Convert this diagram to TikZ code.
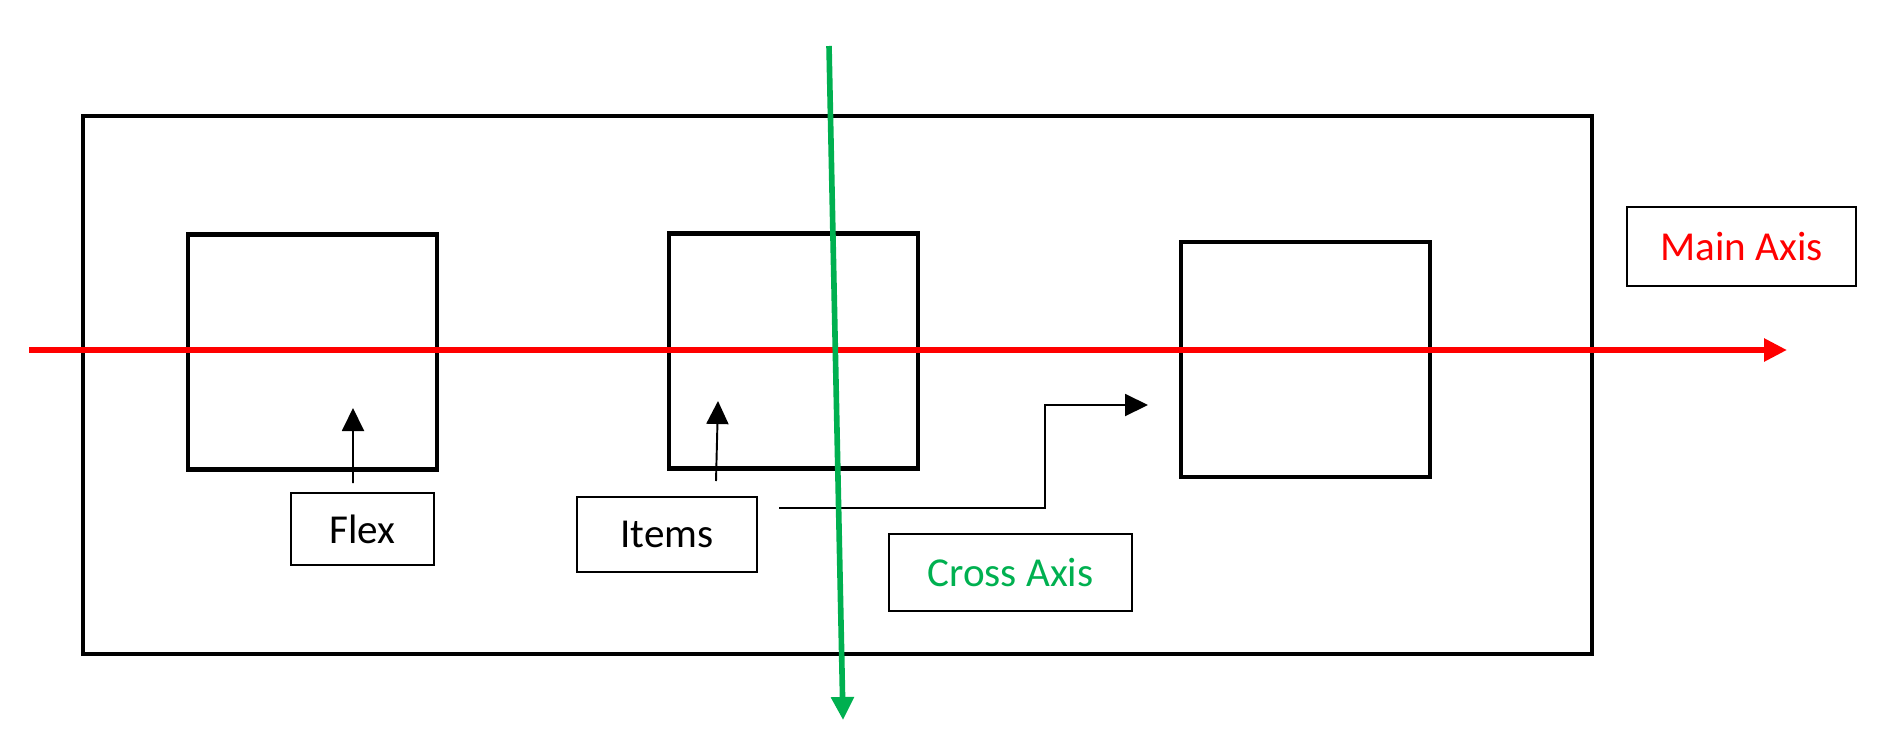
\documentclass[tikz,border=0pt]{standalone}
\usepackage{fontspec}
\setmainfont{Carlito}
\usetikzlibrary{arrows.meta}
\definecolor{axisred}{RGB}{255,0,0}
\definecolor{axisgreen}{RGB}{0,176,80}
\newcommand{\lowtext}[1]{\raisebox{-0.35mm}{#1}}
\begin{document}
\begin{tikzpicture}[x=0.1mm,y=-0.1mm,inner sep=0pt,outer sep=0pt,
>={Triangle[length=2.3mm,width=2.2mm]},
container/.style={draw,rectangle,line width=1.15pt,minimum width=150.9mm,minimum height=53.8mm},
flexitem/.style={draw,rectangle,line width=1.15pt,minimum width=24.9mm,minimum height=23.5mm},
tag/.style={draw,rectangle,line width=0.6pt,font=\fontsize{11.7}{14}\selectfont}]
\useasboundingbox (0,0) rectangle (1890,744);
\draw (837.5,385) node[container] (box) {};
\draw (312.5,352) node[flexitem] (item1) {};
\draw (793.5,351) node[flexitem] (item2) {};
\draw (1305,359.5) node[flexitem] (item3) {};
\draw (362.5,529) node[tag,minimum width=14.3mm,minimum height=7.2mm] (flexlabel) {\lowtext{Flex}\hspace{1.4mm}};
\draw (667,534.5) node[tag,minimum width=18mm,minimum height=7.5mm] (itemslabel) {\lowtext{Items}\hspace{2.4mm}};
\draw (1010.5,572.5) node[tag,minimum width=24.3mm,minimum height=7.7mm,text=axisgreen] (crosslabel) {\lowtext{Cross Axis}};
\draw (1741.5,246.5) node[tag,minimum width=22.9mm,minimum height=7.9mm,text=axisred] (mainlabel) {\lowtext{Main Axis}};
\coordinate (flextip) at (353,408);
\coordinate (itemstip) at (718,401);
\coordinate (movetip) at (1148,405);
\coordinate (mainstart) at (29,350);
\coordinate (mainend) at (1787,350);
\coordinate (crossstart) at (829,46);
\coordinate (crossend) at (843,720);
\draw[->,line width=0.55pt] ([xshift=-0.95mm,yshift=1mm]flexlabel.north) -- (flextip);
\draw[->,line width=0.55pt] ([xshift=4.9mm,yshift=1.6mm]itemslabel.north) -- (itemstip);
\draw[->,line width=0.55pt] ([xshift=2.2mm,yshift=2.65mm]itemslabel.east) -- ++(266,0) |- (movetip);
\draw[->,axisred,line width=1.6pt] (mainstart) -- (mainend);
\draw[->,axisgreen,line width=1.6pt] (crossstart) -- (crossend);
\end{tikzpicture}
\end{document}
